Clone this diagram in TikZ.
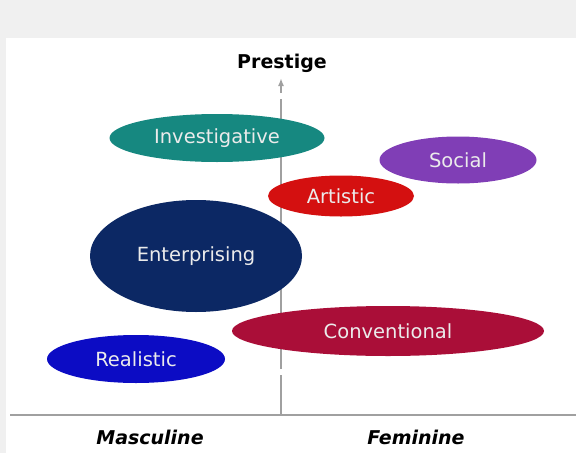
\documentclass[tikz,border=0pt]{standalone}
\usepackage{fontspec}
\setmainfont{DejaVu Sans}
\usepackage{tikz}
\usetikzlibrary{positioning}
\usetikzlibrary{arrows.meta}
\usetikzlibrary{shapes}
\definecolor{invcol}{RGB}{22,136,128}
\definecolor{soccol}{RGB}{128,62,182}
\definecolor{artcol}{RGB}{212,16,16}
\definecolor{entcol}{RGB}{12,40,100}
\definecolor{concol}{RGB}{170,14,56}
\definecolor{realcol}{RGB}{12,12,196}
\definecolor{axiscol}{RGB}{160,160,160}
\definecolor{framecol}{RGB}{240,240,240}
\tikzset{type node/.style={ellipse,inner sep=0pt,text=white!92!black,font=\fontsize{19.5}{22}\selectfont},
         axis label/.style={font=\fontsize{19}{22}\selectfont\bfseries},}

\begin{document}
\begin{tikzpicture}[x=1pt,y=-1pt]
    \useasboundingbox (0,0) rectangle (576,453);
    \fill[framecol] (0,0) rectangle (576,38);
    \fill[framecol] (0,38) rectangle (6,453);

    % axes
    \coordinate (origin) at (281,415);
    \coordinate (top) at (281,78);
    \coordinate (left) at (10,415);
    \coordinate (right) at (576,415);
    \draw[axiscol,line width=1.6pt] (left) -- (right);
    \draw[axiscol,line width=1.6pt,dash pattern=on 40pt off 6pt,-{Latex[length=8pt,width=6pt]}] (origin) -- (top);

    \node[axis label] (prestige) at (282,63) {Prestige};
    \node[axis label,font=\fontsize{19}{22}\selectfont\bfseries\itshape] (masc) at (150,437) {Masculine};
    \node[axis label,font=\fontsize{19}{22}\selectfont\bfseries\itshape] (fem) at (416,437) {Feminine};

    % types
    \node[type node,fill=invcol,minimum width=215pt,minimum height=48pt] (inv) at (217,138) {Investigative};
    \node[type node,fill=soccol,minimum width=157pt,minimum height=47pt] (soc) at (458,160) {Social};
    \node[type node,fill=artcol,minimum width=146pt,minimum height=41pt] (art) at (341,196) {Artistic};
    \node[type node,fill=entcol,minimum width=212pt,minimum height=112pt] (ent) at (196,256) {Enterprising};
    \node[type node,fill=concol,minimum width=312pt,minimum height=50pt] (conv) at (388,331) {Conventional};
    \node[type node,fill=realcol,minimum width=178pt,minimum height=48pt] (real) at (136,359) {Realistic};
\end{tikzpicture}
\end{document}
